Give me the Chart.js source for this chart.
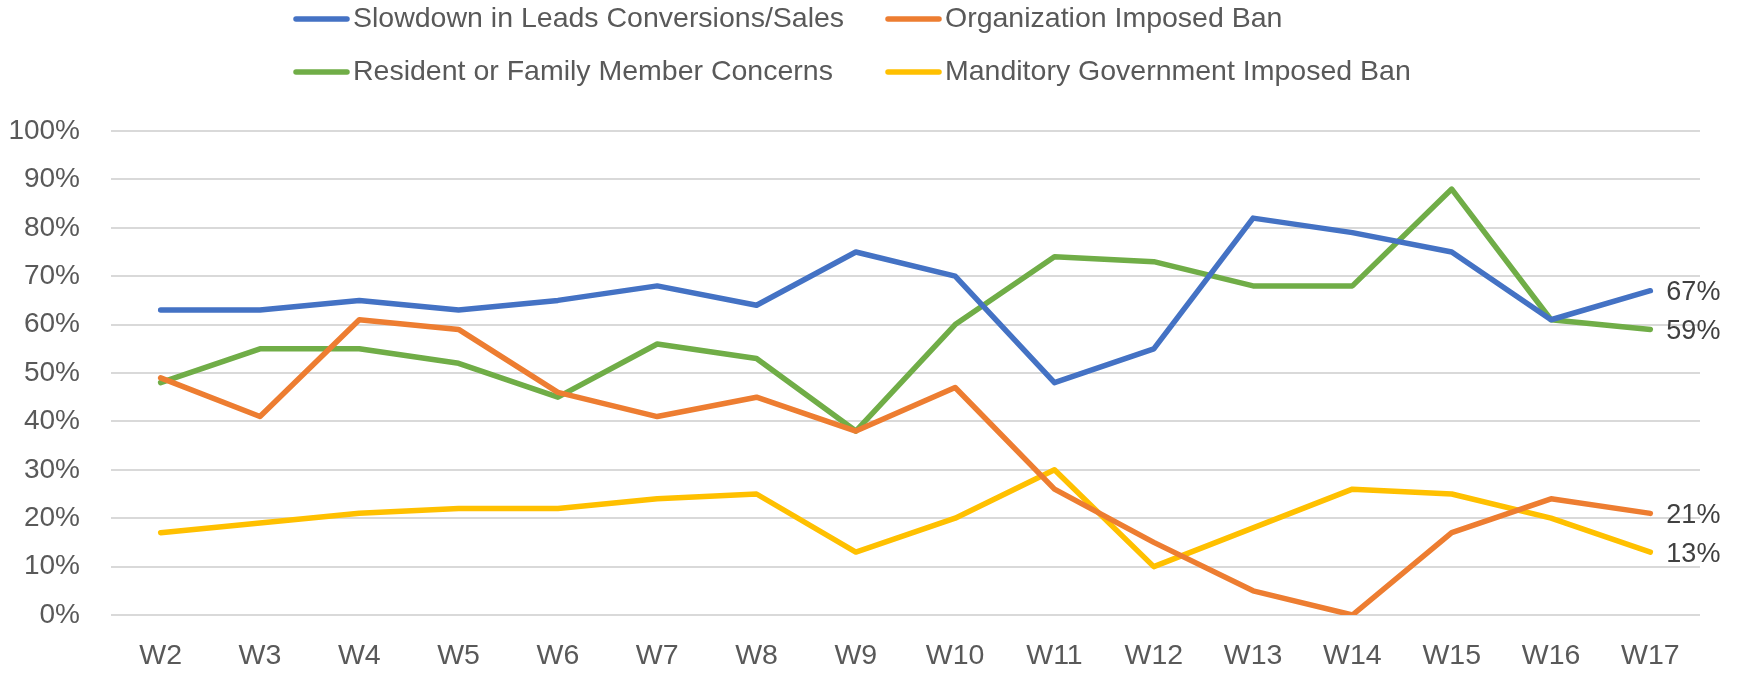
<!DOCTYPE html>
<html>
<head>
<meta charset="utf-8">
<title>Reasons by week</title>
<script src="https://cdn.jsdelivr.net/npm/chart.js@4.4.1/dist/chart.umd.min.js"></script>
<style>
  html,body{margin:0;padding:0;background:#fff;}
  #wrap{width:1740px;height:673px;position:relative;}
</style>
</head>
<body>
<div id="wrap"><canvas id="trendChart"></canvas></div>
<script>
/* ---------------- data ---------------- */
const weeks = ["W2","W3","W4","W5","W6","W7","W8","W9","W10","W11","W12","W13","W14","W15","W16","W17"];
const slowdownSales   = [63,63,65,63,65,68,64,75,70,48,55,82,79,75,61,67];
const orgBan          = [49,41,61,59,46,41,45,38,47,26,15, 5, 0,17,24,21];
const familyConcerns  = [48,55,55,52,45,56,53,38,60,74,73,68,68,88,61,59];
const governmentBan   = [17,19,21,22,22,24,25,13,20,30,10,18,26,25,20,13];
const yTicks = [0,10,20,30,40,50,60,70,80,90,100];

const FONT = '"Liberation Sans", Arial, sans-serif';
const TXT = "#595959";

/* legend in 2 columns like the original */
const gridLegend = {
  id:"gridLegend",
  afterDraw(chart){
    const ctx=chart.ctx;
    const cols=[293,885], rows=[19,72];
    ctx.save();
    ctx.font=`28.5px ${FONT}`;
    ctx.textBaseline="middle";
    ctx.textAlign="left";
    chart.data.datasets.forEach((ds,i)=>{
      const x=cols[i%2], y=rows[Math.floor(i/2)];
      ctx.strokeStyle=ds.borderColor; ctx.lineWidth=5.5; ctx.lineCap="round";
      ctx.beginPath(); ctx.moveTo(x+3,y); ctx.lineTo(x+54,y); ctx.stroke();
      ctx.fillStyle=TXT;
      ctx.fillText(ds.label,x+60,y);
    });
    ctx.restore();
  }
};

/* value labels at the last point of each series */
const endLabels = {
  id:"endLabels",
  afterDatasetsDraw(chart){
    const ctx=chart.ctx;
    ctx.save();
    ctx.font=`27px ${FONT}`;
    ctx.fillStyle="#404040";
    ctx.textBaseline="middle";
    ctx.textAlign="left";
    chart.data.datasets.forEach((ds,i)=>{
      const meta=chart.getDatasetMeta(i);
      const last=meta.data[meta.data.length-1];
      ctx.fillText(ds.data[ds.data.length-1]+"%", last.x+16, last.y+2);
    });
    ctx.restore();
  }
};

const lineStyle = {borderWidth:5.5,pointRadius:0,tension:0,borderCapStyle:"round",borderJoinStyle:"round",fill:false};

new Chart(document.getElementById("trendChart"),{
  type:"line",
  data:{labels:weeks,datasets:[
    {label:"Slowdown in Leads Conversions/Sales",data:slowdownSales,borderColor:"#4472C4",backgroundColor:"#4472C4",...lineStyle},
    {label:"Organization Imposed Ban",data:orgBan,borderColor:"#ED7D31",backgroundColor:"#ED7D31",...lineStyle},
    {label:"Resident or Family Member Concerns",data:familyConcerns,borderColor:"#70AD47",backgroundColor:"#70AD47",...lineStyle},
    {label:"Manditory Government Imposed Ban",data:governmentBan,borderColor:"#FFC000",backgroundColor:"#FFC000",...lineStyle}
  ]},
  options:{
    responsive:true, maintainAspectRatio:false, animation:false,
    layout:{padding:{top:131,right:40,left:0,bottom:0}},
    plugins:{legend:{display:false},tooltip:{enabled:false}},
    scales:{
      x:{
        offset:true,
        grid:{display:false,drawTicks:false},
        border:{display:false},
        ticks:{color:TXT,font:{family:FONT,size:28.5},padding:24,maxRotation:0,autoSkip:false},
        afterFit(s){ s.height=58; }
      },
      y:{
        min:0,max:100,
        afterBuildTicks(s){ s.ticks=yTicks.map(v=>({value:v})); },
        grid:{color:"#D9D9D9",lineWidth:2,drawTicks:false},
        border:{display:false},
        ticks:{color:TXT,font:{family:FONT,size:28},padding:31,callback:v=>v+"%"},
        afterFit(s){ s.width=111; }
      }
    }
  },
  plugins:[gridLegend,endLabels]
});
</script>
</body>
</html>
